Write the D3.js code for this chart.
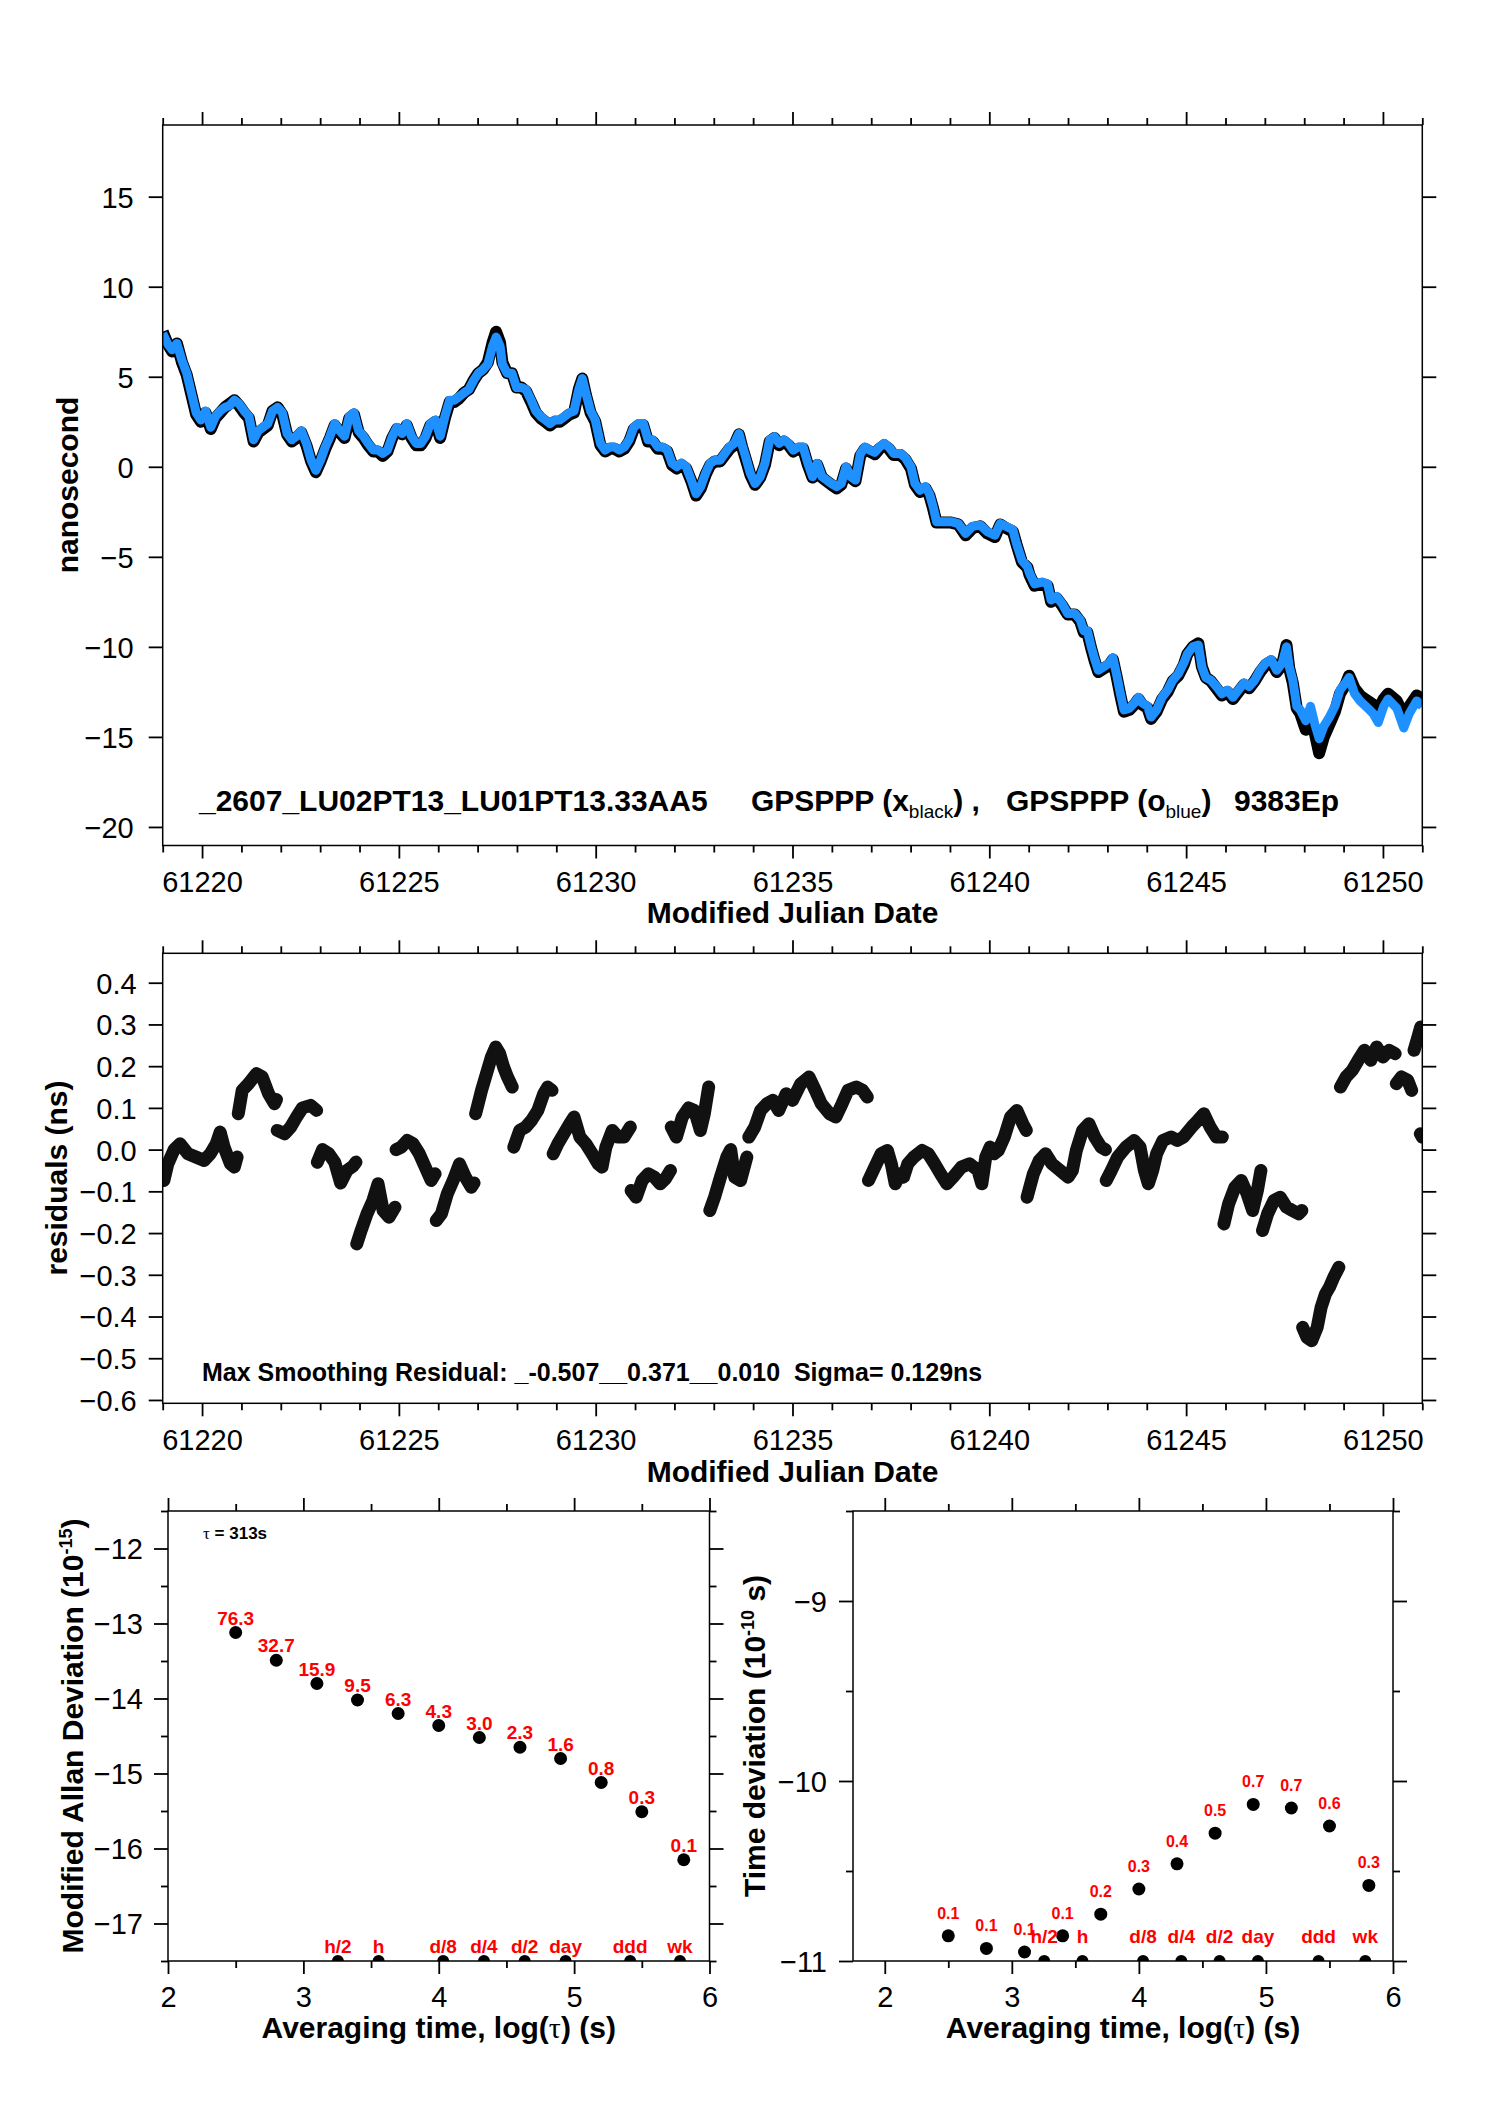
<!DOCTYPE html>
<html>
<head>
<meta charset="utf-8">
<script src="https://cdn.jsdelivr.net/npm/d3@7"></script>
<style>
  body { margin: 0; background: #fff; }
  svg { display: block; }
  text { white-space: pre; }
</style>
</head>
<body>
<svg id="chart" width="1488" height="2105"></svg>
<script>
// ---- top panel: clock offset traces (MJD, ns) ----
const traceMjd = [
  61219.00, 61219.12, 61219.24, 61219.36, 61219.49, 61219.61, 61219.73, 61219.85, 61219.97, 61220.09,
  61220.22, 61220.34, 61220.46, 61220.58, 61220.70, 61220.82, 61220.94, 61221.07, 61221.19, 61221.31,
  61221.43, 61221.55, 61221.67, 61221.79, 61221.92, 61222.04, 61222.16, 61222.28, 61222.40, 61222.52,
  61222.65, 61222.77, 61222.89, 61223.01, 61223.13, 61223.25, 61223.37, 61223.50, 61223.62, 61223.74,
  61223.86, 61223.98, 61224.10, 61224.22, 61224.35, 61224.47, 61224.59, 61224.71, 61224.83, 61224.95,
  61225.08, 61225.20, 61225.32, 61225.44, 61225.56, 61225.68, 61225.80, 61225.93, 61226.05, 61226.17,
  61226.29, 61226.41, 61226.53, 61226.65, 61226.78, 61226.90, 61227.02, 61227.14, 61227.26, 61227.38,
  61227.47, 61227.57, 61227.63, 61227.75, 61227.87, 61227.99, 61228.11, 61228.23, 61228.36, 61228.48,
  61228.60, 61228.72, 61228.84, 61228.96, 61229.09, 61229.21, 61229.33, 61229.45, 61229.57, 61229.66,
  61229.75, 61229.87, 61229.99, 61230.12, 61230.24, 61230.36, 61230.48, 61230.60, 61230.73, 61230.85,
  61230.97, 61231.09, 61231.21, 61231.33, 61231.45, 61231.58, 61231.70, 61231.82, 61231.94, 61232.06,
  61232.18, 61232.30, 61232.43, 61232.55, 61232.67, 61232.79, 61232.91, 61233.03, 61233.16, 61233.28,
  61233.40, 61233.52, 61233.64, 61233.72, 61233.81, 61233.93, 61234.05, 61234.18, 61234.30, 61234.42,
  61234.54, 61234.66, 61234.78, 61234.90, 61235.02, 61235.15, 61235.27, 61235.39, 61235.51, 61235.63,
  61235.75, 61235.87, 61235.99, 61236.12, 61236.24, 61236.36, 61236.48, 61236.60, 61236.72, 61236.84,
  61236.96, 61237.09, 61237.21, 61237.33, 61237.45, 61237.57, 61237.74, 61237.87, 61238.01, 61238.11,
  61238.24, 61238.38, 61238.48, 61238.57, 61238.66, 61238.84, 61239.03, 61239.21, 61239.40, 61239.58,
  61239.77, 61239.95, 61240.14, 61240.28, 61240.42, 61240.60, 61240.69, 61240.83, 61240.97, 61241.02,
  61241.15, 61241.34, 61241.48, 61241.57, 61241.71, 61241.85, 61241.99, 61242.17, 61242.31, 61242.40,
  61242.49, 61242.59, 61242.68, 61242.77, 61242.91, 61243.05, 61243.14, 61243.23, 61243.33, 61243.42,
  61243.56, 61243.69, 61243.79, 61243.88, 61244.02, 61244.11, 61244.25, 61244.39, 61244.53, 61244.66,
  61244.80, 61244.94, 61245.03, 61245.17, 61245.31, 61245.40, 61245.50, 61245.63, 61245.77, 61245.91,
  61246.05, 61246.19, 61246.33, 61246.47, 61246.60, 61246.74, 61246.88, 61247.02, 61247.16, 61247.30,
  61247.44, 61247.55, 61247.62, 61247.71, 61247.81, 61247.90, 61248.04, 61248.16, 61248.27, 61248.38,
  61248.50, 61248.64, 61248.78, 61248.91, 61249.05, 61249.14, 61249.28, 61249.42, 61249.61, 61249.75,
  61249.88, 61250.02, 61250.13, 61250.35, 61250.53, 61250.67, 61250.86, 61251.00
];
const blueNs = [
  7.4, 6.85, 6.5, 6.85, 5.9, 5.2, 4.1, 3.0, 2.6, 3.1,
  2.2, 2.8, 3.1, 3.3, 3.4, 3.7, 3.5, 3.1, 2.8, 1.5,
  2.0, 2.2, 2.4, 3.1, 3.3, 3.0, 1.85, 1.5, 1.7, 2.0,
  1.3, 0.37, -0.2, 0.37, 1.1, 1.7, 2.4, 2.0, 1.7, 2.8,
  3.0, 2.0, 1.7, 1.3, 0.93, 0.93, 0.74, 0.93, 1.67, 2.2,
  1.85, 2.4, 1.7, 1.3, 1.3, 1.7, 2.4, 2.6, 1.7, 2.8,
  3.7, 3.7, 3.9, 4.1, 4.3, 4.8, 5.2, 5.4, 5.7, 6.7,
  7.2, 6.7, 5.7, 5.2, 5.2, 4.4, 4.4, 4.3, 3.7, 3.1,
  2.8, 2.6, 2.4, 2.6, 2.6, 2.8, 3.0, 3.1, 4.3, 4.9,
  4.1, 3.1, 2.6, 1.3, 0.93, 1.1, 1.1, 0.93, 1.1, 1.5,
  2.2, 2.4, 2.4, 1.5, 1.5, 1.1, 1.1, 0.93, 0.2, 0.0,
  0.2, 0.0, -0.74, -1.5, -1.1, -0.37, 0.2, 0.37, 0.37, 0.74,
  1.1, 1.3, 1.85, 1.2, 0.55, -0.37, -0.93, -0.55, 0.19, 1.5,
  1.67, 1.3, 1.5, 1.3, 0.93, 1.1, 1.1, 0.19, -0.55, 0.19,
  -0.55, -0.74, -0.93, -1.1, -0.93, 0.0, -0.55, -0.74, 0.7, 1.1,
  0.93, 0.8, 1.1, 1.3, 1.1, 0.74, 0.74, 0.5, 0.0, -0.93,
  -1.3, -1.1, -1.5, -2.2, -3.05, -3.05, -3.05, -3.15, -3.7, -3.3,
  -3.24, -3.6, -3.8, -3.15, -3.3, -3.5, -4.26, -5.2, -5.55, -5.9,
  -6.5, -6.4, -6.5, -7.4, -7.2, -7.6, -8.15, -8.15, -8.5, -9.1,
  -9.1, -10.0, -10.7, -11.3, -11.1, -10.9, -10.6, -11.5, -12.6, -13.5,
  -13.4, -13.1, -12.8, -13.1, -13.3, -13.9, -13.5, -12.8, -12.4, -11.85,
  -11.5, -10.9, -10.4, -10.0, -9.9, -11.1, -11.7, -11.85, -12.2, -12.6,
  -12.4, -12.8, -12.4, -12.0, -12.2, -11.85, -11.3, -10.9, -10.7, -11.3,
  -10.9, -10.0, -11.1, -11.85, -13.3, -13.5, -14.1, -13.3, -14.3, -15.1,
  -14.4, -13.9, -13.3, -12.4, -12.0, -11.7, -12.6, -13.0, -13.4, -13.7,
  -14.2, -13.3, -12.9, -13.4, -14.5, -13.7, -13.0, -13.3
];
const blackNs = [
  7.5, 6.85, 6.4, 6.85, 5.8, 5.1, 4.0, 2.9, 2.5, 3.0,
  2.1, 2.7, 3.0, 3.3, 3.5, 3.7, 3.4, 3.0, 2.7, 1.4,
  1.9, 2.1, 2.3, 3.1, 3.3, 2.9, 1.8, 1.4, 1.6, 1.9,
  1.2, 0.3, -0.3, 0.3, 1.0, 1.6, 2.3, 1.9, 1.6, 2.7,
  2.9, 1.9, 1.6, 1.2, 0.85, 0.85, 0.6, 0.85, 1.6, 2.1,
  1.8, 2.3, 1.6, 1.2, 1.2, 1.6, 2.3, 2.5, 1.6, 2.7,
  3.6, 3.6, 3.8, 4.1, 4.3, 4.8, 5.2, 5.4, 5.8, 6.9,
  7.5, 6.9, 5.8, 5.2, 5.2, 4.4, 4.4, 4.2, 3.6, 3.0,
  2.7, 2.5, 2.3, 2.5, 2.5, 2.7, 2.9, 3.0, 4.3, 4.9,
  4.0, 3.0, 2.5, 1.2, 0.85, 1.0, 1.0, 0.85, 1.0, 1.4,
  2.1, 2.3, 2.3, 1.4, 1.4, 1.0, 1.0, 0.85, 0.1, -0.1,
  0.1, -0.1, -0.8, -1.6, -1.2, -0.45, 0.1, 0.3, 0.3, 0.65,
  1.0, 1.2, 1.8, 1.1, 0.45, -0.45, -1.0, -0.6, 0.1, 1.4,
  1.6, 1.2, 1.4, 1.2, 0.85, 1.0, 1.0, 0.1, -0.6, 0.1,
  -0.6, -0.8, -1.0, -1.2, -1.0, -0.1, -0.6, -0.8, 0.6, 1.0,
  0.85, 0.7, 1.0, 1.2, 1.0, 0.65, 0.65, 0.4, -0.1, -1.0,
  -1.4, -1.2, -1.6, -2.3, -3.1, -3.1, -3.1, -3.2, -3.8, -3.4,
  -3.3, -3.7, -3.9, -3.2, -3.4, -3.6, -4.3, -5.3, -5.6, -6.0,
  -6.6, -6.5, -6.6, -7.5, -7.3, -7.7, -8.2, -8.2, -8.6, -9.2,
  -9.2, -10.1, -10.8, -11.4, -11.2, -11.0, -10.7, -11.6, -12.7, -13.6,
  -13.5, -13.2, -12.9, -13.2, -13.4, -14.0, -13.6, -12.9, -12.5, -11.9,
  -11.6, -11.0, -10.4, -10.0, -9.8, -11.1, -11.7, -11.9, -12.3, -12.7,
  -12.5, -12.9, -12.5, -12.1, -12.3, -11.9, -11.4, -11.0, -10.8, -11.4,
  -11.0, -9.9, -11.2, -12.0, -13.4, -13.7, -14.6, -14.2, -14.8, -15.9,
  -15.0, -14.3, -13.6, -12.6, -12.1, -11.6, -12.3, -12.7, -13.0, -13.2,
  -13.5, -12.9, -12.6, -13.0, -13.8, -13.3, -12.7, -12.9
];

// ---- second panel: smoothing residuals, one row per data segment (null = gap) ----
const residMjd = [
  61219.03, 61219.13, 61219.29, 61219.44, 61219.64, 61219.85, 61220.05, 61220.21, 61220.36, 61220.46, 61220.56, 61220.72, 61220.82, 61220.89, null,
  61220.92, 61221.02, 61221.18, 61221.38, 61221.53, 61221.69, 61221.84, 61221.89, null,
  61221.91, 61222.10, 61222.25, 61222.40, 61222.55, 61222.76, 61222.91, null,
  61222.93, 61223.06, 61223.22, 61223.37, 61223.52, 61223.68, 61223.83, 61223.91, null,
  61223.93, 61224.04, 61224.19, 61224.34, 61224.47, 61224.60, 61224.75, 61224.90, null,
  61224.93, 61225.06, 61225.21, 61225.36, 61225.52, 61225.67, 61225.82, 61225.92, null,
  61225.95, 61226.08, 61226.23, 61226.38, 61226.54, 61226.69, 61226.84, 61226.91, null,
  61226.95, 61227.10, 61227.25, 61227.35, 61227.46, 61227.56, 61227.66, 61227.76, 61227.88, null,
  61227.92, 61228.07, 61228.22, 61228.37, 61228.53, 61228.68, 61228.78, 61228.89, null,
  61228.92, 61229.04, 61229.19, 61229.34, 61229.45, 61229.60, 61229.75, 61229.91, 61230.06, 61230.16, 61230.26, 61230.42, 61230.57, 61230.72, 61230.88, null,
  61230.90, 61231.03, 61231.18, 61231.34, 61231.49, 61231.64, 61231.77, 61231.90, null,
  61231.92, 61232.05, 61232.20, 61232.36, 61232.51, 61232.66, 61232.76, 61232.87, null,
  61232.90, 61233.02, 61233.17, 61233.33, 61233.43, 61233.53, 61233.68, 61233.84, null,
  61233.89, 61234.04, 61234.19, 61234.35, 61234.50, 61234.65, 61234.84, 61235.00, 61235.21, 61235.42, 61235.58, 61235.73, 61235.94, 61236.10, 61236.26, 61236.41, 61236.62, 61236.78, 61236.90, null,
  61236.93, 61237.09, 61237.25, 61237.41, 61237.51, 61237.61, 61237.72, 61237.82, 61237.93, 61238.08, 61238.29, 61238.45, 61238.61, 61238.76, 61238.92, 61239.08, 61239.29, 61239.50, 61239.71, 61239.81, 61239.91, 61240.02, 61240.12, 61240.23, 61240.38, 61240.54, 61240.70, 61240.85, 61240.94, null,
  61240.96, 61241.12, 61241.27, 61241.43, 61241.59, 61241.80, 61242.00, 61242.11, 61242.21, 61242.37, 61242.53, 61242.68, 61242.84, 61242.95, null,
  61242.97, 61243.10, 61243.26, 61243.47, 61243.68, 61243.83, 61243.94, 61244.04, 61244.15, 61244.25, 61244.41, 61244.62, 61244.78, 61244.93, 61245.14, 61245.30, 61245.45, 61245.61, 61245.77, 61245.92, null,
  61245.96, 61246.08, 61246.24, 61246.40, 61246.55, 61246.69, 61246.81, 61246.90, null,
  61246.94, 61247.07, 61247.23, 61247.39, 61247.55, 61247.70, 61247.86, 61247.94, null,
  61247.96, 61248.07, 61248.19, 61248.33, 61248.43, 61248.54, 61248.64, 61248.75, 61248.88, null,
  61248.92, 61249.06, 61249.22, 61249.37, 61249.53, 61249.69, 61249.84, 61250.00, 61250.16, 61250.31, null,
  61250.34, 61250.47, 61250.63, 61250.73, null,
  61250.79, 61250.89, 61250.96, null,
  61250.95, 61251.00
];
const residNs = [
  -0.074, -0.034, 0.0, 0.014, -0.01, -0.018, -0.026, -0.01, 0.014, 0.042, 0.006, -0.034, -0.042, -0.018, null,
  0.086, 0.142, 0.158, 0.182, 0.174, 0.134, 0.11, 0.12, null,
  0.046, 0.038, 0.054, 0.078, 0.10, 0.106, 0.094, null,
  -0.03, 0.0, -0.01, -0.03, -0.08, -0.05, -0.04, -0.03, null,
  -0.226, -0.194, -0.154, -0.122, -0.082, -0.146, -0.162, -0.138, null,
  0.0, 0.006, 0.022, 0.014, -0.01, -0.042, -0.074, -0.058, null,
  -0.17, -0.154, -0.106, -0.074, -0.034, -0.066, -0.09, -0.08, null,
  0.086, 0.142, 0.19, 0.222, 0.246, 0.23, 0.198, 0.174, 0.15, null,
  0.006, 0.046, 0.054, 0.07, 0.094, 0.134, 0.15, 0.142, null,
  -0.01, 0.014, 0.038, 0.062, 0.078, 0.03, 0.014, -0.01, -0.034, -0.042, 0.006, 0.046, 0.03, 0.03, 0.054, null,
  -0.098, -0.114, -0.074, -0.058, -0.066, -0.082, -0.07, -0.05, null,
  0.054, 0.03, 0.078, 0.10, 0.094, 0.046, 0.086, 0.15, null,
  -0.146, -0.114, -0.066, -0.018, 0.0, -0.066, -0.074, -0.018, null,
  0.03, 0.054, 0.094, 0.11, 0.118, 0.094, 0.134, 0.118, 0.158, 0.174, 0.142, 0.11, 0.086, 0.078, 0.11, 0.142, 0.15, 0.142, 0.126, null,
  -0.074, -0.042, -0.01, -0.002, -0.034, -0.082, -0.058, -0.066, -0.034, -0.018, -0.002, -0.01, -0.034, -0.058, -0.082, -0.066, -0.042, -0.034, -0.05, -0.082, -0.018, 0.006, -0.01, -0.002, 0.03, 0.078, 0.094, 0.062, 0.046, null,
  -0.114, -0.058, -0.026, -0.01, -0.034, -0.05, -0.066, -0.05, -0.002, 0.046, 0.062, 0.03, 0.006, 0.0, null,
  -0.074, -0.05, -0.018, 0.006, 0.022, 0.006, -0.05, -0.082, -0.05, -0.01, 0.022, 0.03, 0.022, 0.03, 0.054, 0.07, 0.086, 0.054, 0.03, 0.03, null,
  -0.178, -0.13, -0.09, -0.074, -0.106, -0.146, -0.098, -0.05, null,
  -0.194, -0.154, -0.122, -0.114, -0.138, -0.146, -0.154, -0.146, null,
  -0.426, -0.45, -0.458, -0.426, -0.378, -0.346, -0.33, -0.306, -0.282, null,
  0.15, 0.174, 0.19, 0.214, 0.238, 0.214, 0.246, 0.222, 0.238, 0.23, null,
  0.158, 0.174, 0.166, 0.142, null,
  0.238, 0.27, 0.294, null,
  0.038, 0.03
];

// ---- stability panels ----
const tauLog = [2.50, 2.80, 3.10, 3.40, 3.70, 4.00, 4.30, 4.60, 4.90, 5.20, 5.50, 5.81];
const adevLog = [-13.12, -13.49, -13.80, -14.02, -14.20, -14.36, -14.52, -14.65, -14.80, -15.12, -15.51, -16.15];
const adevLabels = ["76.3", "32.7", "15.9", "9.5", "6.3", "4.3", "3.0", "2.3", "1.6", "0.8", "0.3", "0.1"];
const tdevLog = [-10.86, -10.93, -10.95, -10.86, -10.74, -10.60, -10.46, -10.29, -10.13, -10.15, -10.25, -10.58];
const tdevLabels = ["0.1", "0.1", "0.1", "0.1", "0.2", "0.3", "0.4", "0.5", "0.7", "0.7", "0.6", "0.3"];
const markerLog = [3.255, 3.556, 4.033, 4.334, 4.635, 4.937, 5.414, 5.782];
const markerNames = ["h/2", "h", "d/8", "d/4", "d/2", "day", "ddd", "wk"];

// ---- layout ----
const FONT = '"Liberation Sans", Arial, Helvetica, sans-serif';
const RED = "#ff0000";
const BLUE = "#1e90ff";
const P1 = { left: 162.7, right: 1422.3, top: 125, bottom: 845.5 };
const P2 = { left: 162.7, right: 1422.3, top: 953.3, bottom: 1403.3 };
const P3 = { left: 168, right: 709.5, top: 1511, bottom: 1961 };
const P4 = { left: 853, right: 1393, top: 1511, bottom: 1961 };

const svg = d3.select("#chart").attr("font-family", FONT);
svg.append("rect").attr("width", 1488).attr("height", 2105).attr("fill", "#fff");

const xMjd1 = d3.scaleLinear().domain([61219, 61251]).range([P1.left, P1.right]);
const yNs = d3.scaleLinear().domain([-21.03, 18.98]).range([P1.bottom, P1.top]);
const xMjd2 = d3.scaleLinear().domain([61219, 61251]).range([P2.left, P2.right]);
const yRes = d3.scaleLinear().domain([-0.608, 0.4705]).range([P2.bottom, P2.top]);
const xTau3 = d3.scaleLinear().domain([2, 6]).range([P3.left, P3.right]);
const yAdev = d3.scaleLinear().domain([-17.5, -11.5]).range([P3.bottom, P3.top]);
const xTau4 = d3.scaleLinear().domain([1.75, 6]).range([P4.left, P4.right]);
const yTdev = d3.scaleLinear().domain([-11, -8.5]).range([P4.bottom, P4.top]);

const fmtMinus = d3.format("");
const fmtRes = d3.format(".1f");

function clipFor(id, box) {
  svg.append("clipPath").attr("id", id).append("rect")
    .attr("x", box.left).attr("y", box.top)
    .attr("width", box.right - box.left).attr("height", box.bottom - box.top);
  return svg.append("g").attr("clip-path", `url(#${id})`);
}

function tickAxis(g, axisFn, scale, values, size, transform, fmt) {
  const a = g.append("g")
    .attr("transform", transform)
    .call(axisFn(scale).tickValues(values).tickSize(size).tickSizeOuter(0).tickPadding(0)
      .tickFormat(fmt || (() => "")));
  a.select(".domain").remove();
  a.attr("font-family", FONT).attr("font-size", 29);
  a.selectAll(".tick line").attr("stroke", "#000").attr("stroke-width", 1.8);
  return a;
}

function panelAxes(box, x, y, spec) {
  const g = svg.append("g");
  const T = `translate(0,${box.top})`, B = `translate(0,${box.bottom})`;
  const L = `translate(${box.left},0)`, R = `translate(${box.right},0)`;
  tickAxis(g, d3.axisTop, x, spec.xMinor, 7, T);
  tickAxis(g, d3.axisTop, x, spec.xMajor, 13, T);
  tickAxis(g, d3.axisBottom, x, spec.xMinor, 7, B);
  tickAxis(g, d3.axisBottom, x, spec.xMajor, 13, B, spec.xFmt)
    .selectAll("text").attr("y", spec.xLabelDy).attr("dy", null);
  if (spec.yMinor) {
    tickAxis(g, d3.axisLeft, y, spec.yMinor, 7, L);
    tickAxis(g, d3.axisRight, y, spec.yMinor, 7, R);
  }
  tickAxis(g, d3.axisLeft, y, spec.yMajor, 14, L, spec.yFmt)
    .selectAll("text").attr("x", -spec.yLabelDx).attr("dy", "0.36em");
  tickAxis(g, d3.axisRight, y, spec.yMajor, 14, R);
  g.append("rect")
    .attr("x", box.left).attr("y", box.top)
    .attr("width", box.right - box.left).attr("height", box.bottom - box.top)
    .attr("fill", "none").attr("stroke", "#000").attr("stroke-width", 1.5);
}

function yTitle(x, y, parts) {
  const t = svg.append("text")
    .attr("transform", `translate(${x},${y}) rotate(-90)`)
    .attr("text-anchor", "middle").attr("font-weight", "bold").attr("font-size", 30);
  parts(t);
}

function xTitle(x, y, parts) {
  const t = svg.append("text").attr("x", x).attr("y", y)
    .attr("text-anchor", "middle").attr("font-weight", "bold").attr("font-size", 30);
  parts(t);
}

const mjdMajor = d3.range(61220, 61251, 5);
const mjdMinor = d3.range(61219, 61252).filter(d => d % 5 !== 0);

// ================= panel 1: GPSPPP traces =================
{
  const g = clipFor("clip1", P1);
  const idx = d3.range(traceMjd.length);
  const line = vals => d3.line().x(i => xMjd1(traceMjd[i])).y(i => yNs(vals[i]))(idx);
  g.append("path").attr("d", line(blackNs)).attr("fill", "none")
    .attr("stroke", "#000").attr("stroke-width", 12).attr("stroke-linejoin", "round");
  g.append("path").attr("d", line(blueNs)).attr("fill", "none")
    .attr("stroke", BLUE).attr("stroke-width", 9).attr("stroke-linejoin", "round");

  panelAxes(P1, xMjd1, yNs, {
    xMajor: mjdMajor, xMinor: mjdMinor, xFmt: d3.format("d"), xLabelDy: 46.5,
    yMajor: d3.range(-20, 16, 5), yFmt: fmtMinus, yLabelDx: 29
  });

  const t = svg.append("text").attr("y", 811).attr("font-weight", "bold").attr("font-size", 30);
  t.append("tspan").attr("x", 199).text("_2607_LU02PT13_LU01PT13.33AA5");
  t.append("tspan").attr("x", 751).text("GPSPPP (x");
  t.append("tspan").attr("dy", 7).attr("font-size", 19).attr("font-weight", "normal").text("black");
  t.append("tspan").attr("dy", -7).text(") ,");
  t.append("tspan").attr("x", 1006).text("GPSPPP (o");
  t.append("tspan").attr("dy", 7).attr("font-size", 19).attr("font-weight", "normal").text("blue");
  t.append("tspan").attr("dy", -7).text(")");
  t.append("tspan").attr("x", 1234).text("9383Ep");

  yTitle(78, 485, t => t.text("nanosecond"));
  xTitle((P1.left + P1.right) / 2, 923, t => t.text("Modified Julian Date"));
}

// ================= panel 2: residuals =================
{
  const g = clipFor("clip2", P2);
  const idx = d3.range(residMjd.length);
  g.append("path")
    .attr("d", d3.line().defined(i => residNs[i] !== null)
      .x(i => xMjd2(residMjd[i])).y(i => yRes(residNs[i]))(idx))
    .attr("fill", "none").attr("stroke", "#111").attr("stroke-width", 13)
    .attr("stroke-linejoin", "round").attr("stroke-linecap", "round");

  panelAxes(P2, xMjd2, yRes, {
    xMajor: mjdMajor, xMinor: mjdMinor, xFmt: d3.format("d"), xLabelDy: 46.7,
    yMajor: d3.range(-6, 5).map(d => d / 10), yFmt: fmtRes, yLabelDx: 26
  });

  svg.append("text").attr("x", 202).attr("y", 1381)
    .attr("font-weight", "bold").attr("font-size", 25)
    .text("Max Smoothing Residual: _-0.507__0.371__0.010  Sigma= 0.129ns");

  yTitle(67, 1178, t => t.text("residuals (ns)"));
  xTitle((P2.left + P2.right) / 2, 1482, t => t.text("Modified Julian Date"));
}

// ================= panel 3: modified Allan deviation =================
{
  const g = clipFor("clip3", P3);
  g.selectAll("circle.pt").data(tauLog).join("circle")
    .attr("cx", d => xTau3(d)).attr("cy", (d, i) => yAdev(adevLog[i])).attr("r", 6.5).attr("fill", "#000");
  g.selectAll("circle.mk").data(markerLog).join("circle")
    .attr("cx", d => xTau3(d)).attr("cy", yAdev(-17.5)).attr("r", 6).attr("fill", "#000");

  svg.append("g").attr("fill", RED).attr("font-weight", "bold").attr("font-size", 19).attr("text-anchor", "middle")
    .selectAll("text").data(tauLog).join("text")
    .attr("x", d => xTau3(d)).attr("y", (d, i) => yAdev(adevLog[i]) - 8)
    .text((d, i) => adevLabels[i]);
  svg.append("g").attr("fill", RED).attr("font-weight", "bold").attr("font-size", 19).attr("text-anchor", "middle")
    .selectAll("text").data(markerLog).join("text")
    .attr("x", d => xTau3(d)).attr("y", P3.bottom - 8)
    .text((d, i) => markerNames[i]);

  panelAxes(P3, xTau3, yAdev, {
    xMajor: [2, 3, 4, 5, 6], xMinor: [2.5, 3.5, 4.5, 5.5], xFmt: d3.format("d"), xLabelDy: 46,
    yMajor: d3.range(-17, -11), yMinor: d3.range(-17.5, -11, 1), yFmt: fmtMinus, yLabelDx: 25
  });

  const tt = svg.append("text").attr("x", 203).attr("y", 1539).attr("font-size", 17).attr("font-weight", "bold");
  tt.append("tspan").attr("font-family", '"Liberation Serif", serif').attr("font-weight", "normal").text("τ");
  tt.append("tspan").text(" = 313s");

  yTitle(83, 1736, t => {
    t.append("tspan").text("Modified Allan Deviation (10");
    t.append("tspan").attr("dy", -11).attr("font-size", 18).text("-15");
    t.append("tspan").attr("dy", 11).text(")");
  });
  xTitle((P3.left + P3.right) / 2, 2038, t => {
    t.append("tspan").text("Averaging time, log(");
    t.append("tspan").attr("font-family", '"Liberation Serif", serif').attr("font-weight", "normal").text("τ");
    t.append("tspan").text(") (s)");
  });
}

// ================= panel 4: time deviation =================
{
  const g = clipFor("clip4", P4);
  g.selectAll("circle.pt").data(tauLog).join("circle")
    .attr("cx", d => xTau4(d)).attr("cy", (d, i) => yTdev(tdevLog[i])).attr("r", 6.5).attr("fill", "#000");
  g.selectAll("circle.mk").data(markerLog).join("circle")
    .attr("cx", d => xTau4(d)).attr("cy", yTdev(-11)).attr("r", 6).attr("fill", "#000");

  svg.append("g").attr("fill", RED).attr("font-weight", "bold").attr("font-size", 16).attr("text-anchor", "middle")
    .selectAll("text").data(tauLog).join("text")
    .attr("x", d => xTau4(d)).attr("y", (d, i) => yTdev(tdevLog[i]) - 17)
    .text((d, i) => tdevLabels[i]);
  svg.append("g").attr("fill", RED).attr("font-weight", "bold").attr("font-size", 19).attr("text-anchor", "middle")
    .selectAll("text").data(markerLog).join("text")
    .attr("x", d => xTau4(d)).attr("y", P4.bottom - 18)
    .text((d, i) => markerNames[i]);

  panelAxes(P4, xTau4, yTdev, {
    xMajor: [2, 3, 4, 5, 6], xMinor: [2.5, 3.5, 4.5, 5.5], xFmt: d3.format("d"), xLabelDy: 46,
    yMajor: [-11, -10, -9], yMinor: [-10.5, -9.5, -8.5], yFmt: fmtMinus, yLabelDx: 26
  });

  yTitle(765, 1736, t => {
    t.append("tspan").text("Time deviation (10");
    t.append("tspan").attr("dy", -11).attr("font-size", 18).text("-10");
    t.append("tspan").attr("dy", 11).text(" s)");
  });
  xTitle((P4.left + P4.right) / 2, 2038, t => {
    t.append("tspan").text("Averaging time, log(");
    t.append("tspan").attr("font-family", '"Liberation Serif", serif').attr("font-weight", "normal").text("τ");
    t.append("tspan").text(") (s)");
  });
}
</script>
</body>
</html>
